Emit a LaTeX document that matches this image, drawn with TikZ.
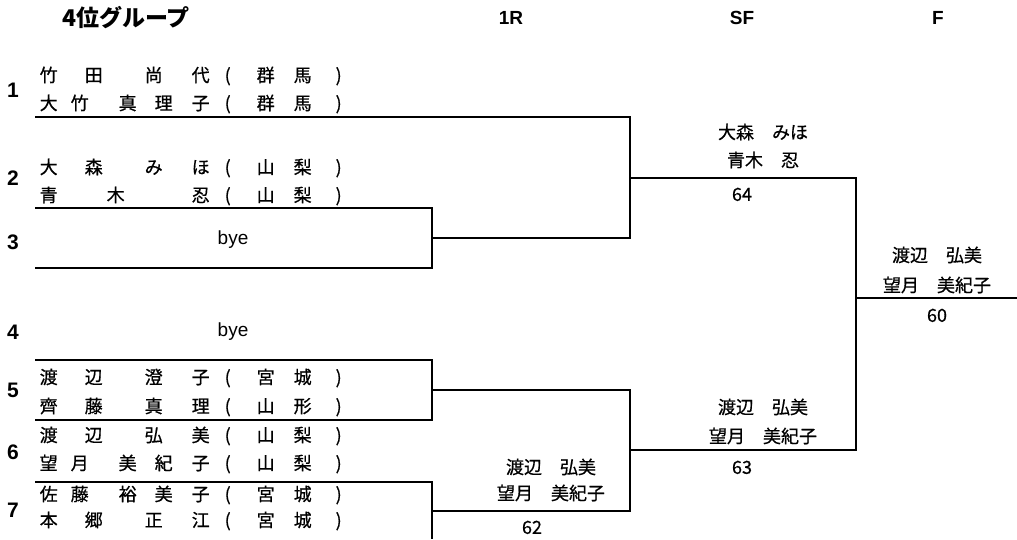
\documentclass[tikz,border=0pt]{standalone}
\usepackage{fontspec}
\setmainfont{Liberation Sans}
\newfontfamily\jp[FakeBold=0.6]{Noto Sans CJK JP}
\newfontfamily\jph{Noto Sans CJK JP}
\newcommand\pc[2]{\makebox[0pt][l]{\hspace*{#1pt}\makebox[0pt][c]{#2}}}
\newcommand\prefc[2]{\pc{227}{(}\pc{265}{#1}\pc{302}{#2}\pc{338}{)}}
\begin{document}
\begin{tikzpicture}[x=1pt,y=-1pt,
  ln/.style={line width=1.8pt},
  nameline/.style={anchor=west,inner sep=0pt,font=\jp\fontsize{18pt}{20pt}\selectfont,text height=15.8pt,text depth=2.2pt},
  jtxt/.style={inner sep=0pt,font=\jp\fontsize{18pt}{20pt}\selectfont,text height=15.8pt,text depth=2.2pt},
  score/.style={inner sep=0pt,font=\jp\fontsize{18pt}{20pt}\selectfont,text height=15.8pt,text depth=2.2pt},
  rownum/.style={inner sep=0pt,font=\fontsize{21pt}{22pt}\selectfont\bfseries,text height=15.04pt,text depth=0pt},
  head/.style={inner sep=0pt,font=\fontsize{19pt}{20pt}\selectfont\bfseries,text height=13.6pt,text depth=0pt},
  byetxt/.style={inner sep=0pt,font=\fontsize{19pt}{20pt}\selectfont,text height=13.7pt,text depth=4pt}]
\useasboundingbox (0,0) rectangle (1017,539);
% headers
\node[inner sep=0pt,font=\jph\fontsize{23pt}{25pt}\selectfont\bfseries,text height=20.2pt,text depth=2.8pt] (hgroup) at (126,18) {4位グループ};
\node[head] (h1r) at (511,18) {1R};
\node[head] (hsf) at (742,18) {SF};
\node[head] (hf) at (938,18) {F};
% row numbers
\node[rownum] (n1) at (13,90) {1};
\node[rownum] (n2) at (13,178) {2};
\node[rownum] (n3) at (13,242) {3};
\node[rownum] (n4) at (13,332) {4};
\node[rownum] (n5) at (13,390) {5};
\node[rownum] (n6) at (13,452) {6};
\node[rownum] (n7) at (13,510) {7};
% entries
\node[nameline] (r1a) at (0,75) {\pc{48}{竹}\pc{93}{田}\pc{153}{尚}\pc{200}{代}\prefc{群}{馬}};
\node[nameline] (r1b) at (0,103) {\pc{48}{大}\pc{79}{竹}\pc{127}{真}\pc{163}{理}\pc{200}{子}\prefc{群}{馬}};
\node[nameline] (r2a) at (0,167) {\pc{48}{大}\pc{93}{森}\pc{153}{み}\pc{200}{ほ}\prefc{山}{梨}};
\node[nameline] (r2b) at (0,195) {\pc{48}{青}\pc{115}{木}\pc{200}{忍}\prefc{山}{梨}};
\node[byetxt] (bye3) at (233,240) {bye};
\node[byetxt] (bye4) at (233,332) {bye};
\node[nameline] (r5a) at (0,377) {\pc{48}{渡}\pc{93}{辺}\pc{153}{澄}\pc{200}{子}\prefc{宮}{城}};
\node[nameline] (r5b) at (0,406) {\pc{48}{齊}\pc{93}{藤}\pc{153}{真}\pc{200}{理}\prefc{山}{形}};
\node[nameline] (r6a) at (0,435) {\pc{48}{渡}\pc{93}{辺}\pc{153}{弘}\pc{200}{美}\prefc{山}{梨}};
\node[nameline] (r6b) at (0,463) {\pc{48}{望}\pc{79}{月}\pc{127}{美}\pc{163}{紀}\pc{200}{子}\prefc{山}{梨}};
\node[nameline] (r7a) at (0,494) {\pc{48}{佐}\pc{79}{藤}\pc{127}{裕}\pc{163}{美}\pc{200}{子}\prefc{宮}{城}};
\node[nameline] (r7b) at (0,520) {\pc{48}{本}\pc{93}{郷}\pc{153}{正}\pc{200}{江}\prefc{宮}{城}};
% winners
\node[jtxt] (w1a) at (551,467) {渡辺　弘美};
\node[jtxt] (w1b) at (551,493) {望月　美紀子};
\node[score] (sc1) at (532,527) {62};
\node[jtxt] (w2a) at (763,132) {大森　みほ};
\node[jtxt] (w2b) at (763,160) {青木　忍};
\node[score] (sc2) at (742,194) {64};
\node[jtxt] (w3a) at (763,407) {渡辺　弘美};
\node[jtxt] (w3b) at (763,436) {望月　美紀子};
\node[score] (sc3) at (742,467) {63};
\node[jtxt] (w4a) at (937,255) {渡辺　弘美};
\node[jtxt] (w4b) at (937,285) {望月　美紀子};
\node[score] (sc4) at (937,315) {60};
% bracket points
\coordinate (l1) at (35,117); \coordinate (m1) at (630,117);
\coordinate (l2) at (35,208); \coordinate (k2) at (432,208);
\coordinate (l3) at (35,268); \coordinate (k3) at (432,268);
\coordinate (k23) at (432,238); \coordinate (m23) at (630,238);
\coordinate (m13) at (630,178); \coordinate (s13) at (856,178);
\coordinate (l5) at (35,360); \coordinate (k5) at (432,360);
\coordinate (l6) at (35,420); \coordinate (k6) at (432,420);
\coordinate (k56) at (432,390); \coordinate (m56) at (630,390);
\coordinate (l7) at (35,482); \coordinate (k7) at (432,482);
\coordinate (k7b) at (432,539);
\coordinate (k7m) at (432,511); \coordinate (m7) at (630,511);
\coordinate (m57) at (630,450); \coordinate (s57) at (856,450);
\coordinate (sF) at (856,298); \coordinate (fR) at (1017,298);
\draw[ln] (l1) -- (m1) -- (m23) -- (k23);
\draw[ln] (l2) -- (k2) -- (k3) -- (l3);
\draw[ln] (m13) -- (s13) -- (s57) -- (m57);
\draw[ln] (sF) -- (fR);
\draw[ln] (l5) -- (k5) -- (k6) -- (l6);
\draw[ln] (k56) -- (m56) -- (m7) -- (k7m);
\draw[ln] (l7) -- (k7) -- (k7b);
\end{tikzpicture}
\end{document}
